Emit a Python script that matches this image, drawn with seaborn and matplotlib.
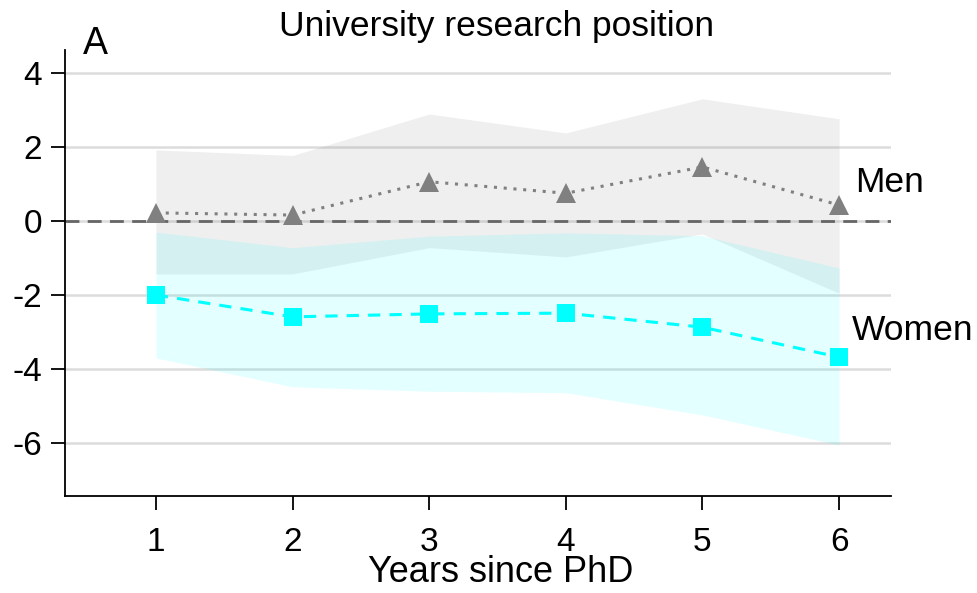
import numpy as np
import pandas as pd
import matplotlib
matplotlib.use("Agg")
import matplotlib.pyplot as plt
import seaborn as sns

years = [1, 2, 3, 4, 5, 6]
men = [0.22, 0.16, 1.06, 0.75, 1.46, 0.43]
men_hi = [1.92, 1.77, 2.89, 2.38, 3.30, 2.76]
men_lo = [-1.43, -1.43, -0.72, -0.97, -0.35, -1.95]
women = [-2.0, -2.59, -2.51, -2.49, -2.87, -3.68]
women_hi = [-0.30, -0.72, -0.41, -0.32, -0.40, -1.27]
women_lo = [-3.70, -4.48, -4.60, -4.64, -5.24, -6.05]
yticks = [-6, -4, -2, 0, 2, 4]

df = pd.DataFrame({'year': years, 'men': men, 'women': women})

sns.set_style("ticks")
plt.rcParams['font.family'] = ['Liberation Sans', 'DejaVu Sans']
plt.rcParams['text.color'] = 'black'
plt.rcParams['xtick.color'] = 'black'
plt.rcParams['ytick.color'] = 'black'
plt.rcParams['axes.labelcolor'] = 'black'

fig = plt.figure(figsize=(9.77, 5.93), dpi=100)
ax = fig.add_axes([0.0665, 0.1636, 0.8455, 0.7521])

for y in yticks:
    ax.axhline(y, color='#dcdcdc', lw=1.8, zorder=0)

ax.fill_between(years, men_lo, men_hi, color='#7f7f7f', alpha=0.12, lw=0, zorder=1)
ax.fill_between(years, women_lo, women_hi, color='#00ffff', alpha=0.11, lw=0, zorder=1)

ax.axhline(0, color='#666666', lw=2, ls=(0, (5, 3)), zorder=2)

sns.lineplot(data=df, x='year', y='men', ax=ax, color='#808080', lw=2.2,
             ls=(0, (1, 2.2)), marker='^', markersize=15, markeredgewidth=0, zorder=3)
sns.lineplot(data=df, x='year', y='women', ax=ax, color='#00ffff', lw=2.2,
             ls=(0, (4, 3)), marker='s', markersize=13, markeredgewidth=0, zorder=3)

ax.text(6.12, 1.05, 'Men', fontsize=25.5, va='center', ha='left')
ax.text(6.09, -2.95, 'Women', fontsize=25.5, va='center', ha='left')

ax.set_xlim(0.334, 6.38)
ax.set_ylim(-7.43, 4.62)
ax.set_xticks(years)
ax.set_yticks(yticks)
ax.set_yticklabels([f'{v}' for v in yticks])
ax.tick_params(axis='both', labelsize=24, length=10, width=1.3, color='black')
ax.tick_params(axis='x', pad=12)
ax.tick_params(axis='y', pad=6.5)
ax.set_xlabel('Years since PhD', fontsize=26, labelpad=-2)
ax.xaxis.set_label_coords(0.528, -0.133)
ax.set_ylabel('')
sns.despine(ax=ax)
for s in ['left', 'bottom']:
    ax.spines[s].set_linewidth(1.3)
    ax.spines[s].set_color('black')

fig.text(0.508, 0.955, 'University research position', fontsize=25.5, ha='center', va='center')
fig.text(0.085, 0.925, 'A', fontsize=27, ha='left', va='center')

fig.savefig('out.png', dpi=100)
